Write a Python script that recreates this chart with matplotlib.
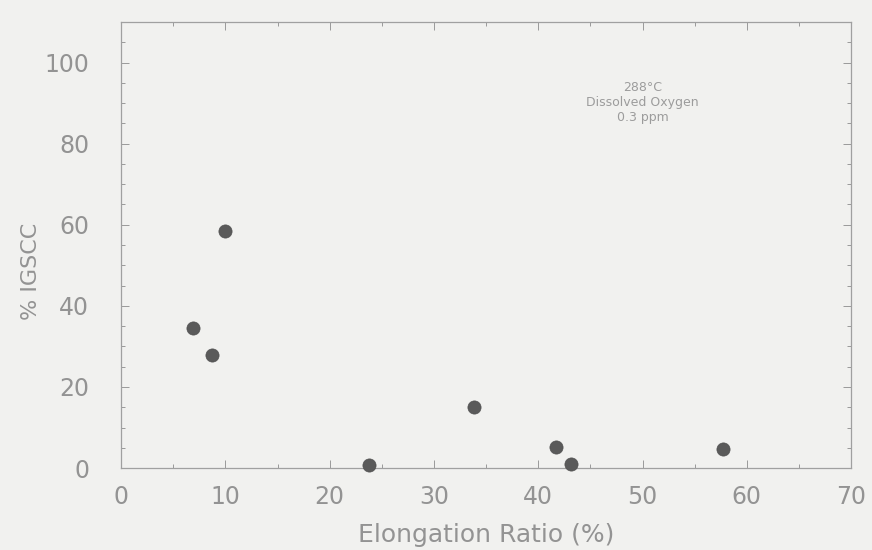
import matplotlib
matplotlib.use("Agg")
import matplotlib.pyplot as plt
from matplotlib.ticker import MultipleLocator

# elongation ratio (%) vs fraction of intergranular SCC
elongation = [6.9, 8.7, 10.0, 23.8, 33.8, 41.7, 43.1, 57.7]
igscc = [34.5, 28.0, 58.5, 0.8, 15.0, 5.2, 1.0, 4.8]

x_ticks = [0, 10, 20, 30, 40, 50, 60, 70]
y_ticks = [0, 20, 40, 60, 80, 100]
note_lines = ["288°C", "Dissolved Oxygen", "0.3 ppm"]

BG = "#f1f1ef"
INK = "#939393"

fig = plt.figure(figsize=(8.72, 5.5), dpi=100, facecolor=BG)
ax = fig.add_axes([0.139, 0.149, 0.837, 0.811], facecolor=BG)

ax.scatter(elongation, igscc, s=90, color="#5a5a5a", edgecolors="#505050",
           linewidths=0.5, zorder=3, clip_on=False)

ax.set_xlim(0, 70)
ax.set_ylim(0, 110)
ax.set_xticks(x_ticks)
ax.set_yticks(y_ticks)
ax.xaxis.set_minor_locator(MultipleLocator(5))
ax.yaxis.set_minor_locator(MultipleLocator(5))
ax.tick_params(which="both", direction="in", color="#9a9a9a", width=0.7,
               top=True, right=True)
ax.tick_params(which="major", length=6, labelsize=17, labelcolor=INK)
ax.tick_params(axis="x", which="major", pad=12)
ax.tick_params(axis="y", which="major", pad=23)
ax.tick_params(which="minor", length=3)
for s in ax.spines.values():
    s.set_color("#a0a0a0")
    s.set_linewidth(0.9)

ax.set_xlabel("Elongation Ratio (%)", fontsize=18, color=INK, labelpad=10)
ax.set_ylabel("% IGSCC", fontsize=16, color=INK)
ax.yaxis.set_label_coords(-0.11, 0.44)

ax.text(50, 95.5, "\n".join(note_lines), ha="center", va="top",
        fontsize=9, color="#9c9c9c", linespacing=1.2)

fig.savefig("out.png", dpi=100, facecolor=BG)
